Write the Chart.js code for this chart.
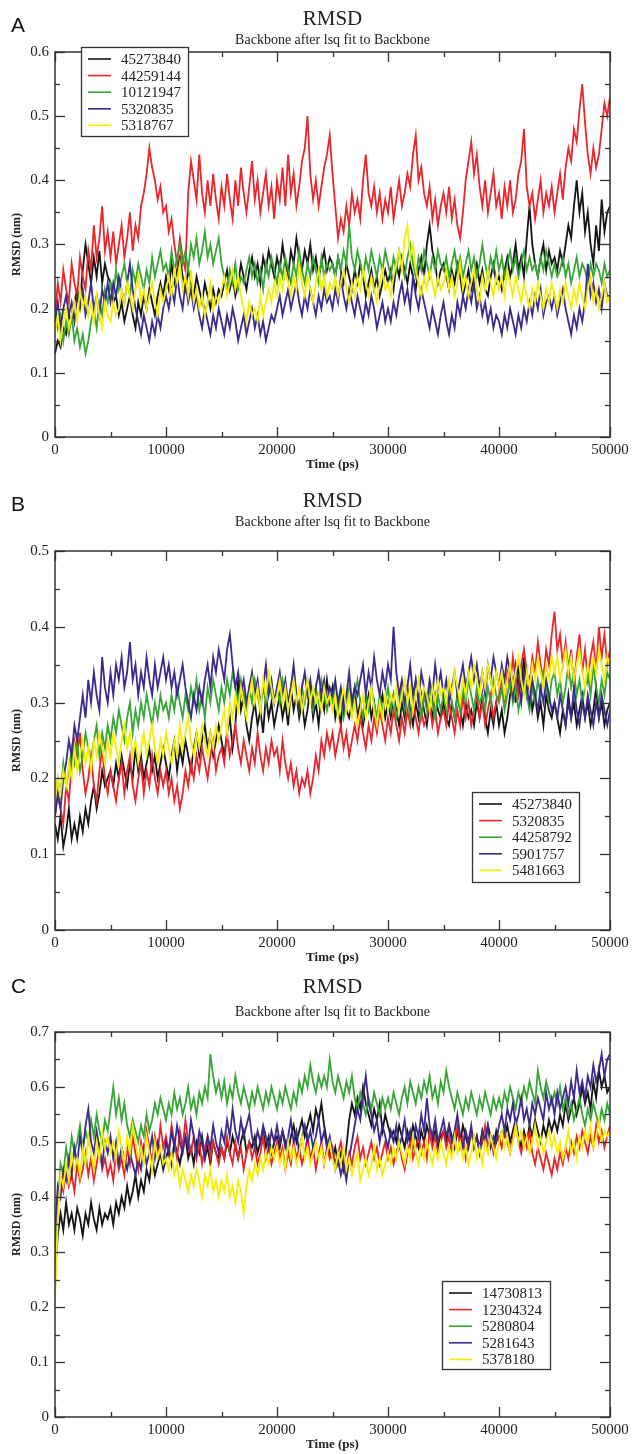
<!DOCTYPE html>
<html>
<head>
<meta charset="utf-8">
<script src="https://cdn.jsdelivr.net/npm/chart.js@4"></script>
<style>
  body { margin: 0; background: #fff; width: 634px; height: 1454px; position: relative; overflow: hidden; }
  canvas { position: absolute; left: 0; }
</style>
</head>
<body>
<canvas id="cA" width="634" height="480" style="top:0px"></canvas>
<canvas id="cB" width="634" height="485" style="top:480px"></canvas>
<canvas id="cC" width="634" height="489" style="top:965px"></canvas>
<script>
// RMSD (nm), one value every 250 ps from 0 to 50000 ps
// (each row = 5000 ps)

// ---- panel A ----
const idsA = ['45273840', '44259144', '10121947', '5320835', '5318767'];
const a45273840 = [
  0.13,0.15,0.14,0.17,0.16,0.19,0.18,0.21,0.23,0.21,0.26,0.30,0.27,0.24,0.28,0.25,0.29,0.24,0.27,0.25,
  0.24,0.21,0.22,0.19,0.21,0.18,0.20,0.22,0.19,0.17,0.21,0.19,0.22,0.20,0.23,0.21,0.19,0.22,0.24,0.22,
  0.25,0.23,0.27,0.24,0.26,0.28,0.25,0.23,0.26,0.24,0.22,0.25,0.23,0.21,0.24,0.22,0.20,0.23,0.21,0.23,
  0.22,0.24,0.26,0.23,0.25,0.22,0.24,0.27,0.25,0.23,0.26,0.28,0.25,0.27,0.24,0.28,0.26,0.29,0.27,0.25,
  0.28,0.26,0.30,0.27,0.25,0.29,0.27,0.31,0.28,0.26,0.29,0.27,0.30,0.26,0.28,0.25,0.27,0.29,0.26,0.28,
  0.27,0.25,0.28,0.26,0.24,0.27,0.25,0.23,0.26,0.24,0.27,0.25,0.22,0.24,0.26,0.23,0.25,0.22,0.24,0.26,
  0.24,0.26,0.23,0.27,0.25,0.28,0.26,0.24,0.27,0.25,0.23,0.26,0.28,0.25,0.30,0.33,0.29,0.27,0.24,0.26,
  0.27,0.25,0.23,0.26,0.24,0.27,0.25,0.22,0.24,0.26,0.23,0.25,0.27,0.24,0.26,0.23,0.22,0.25,0.27,0.24,
  0.25,0.23,0.26,0.28,0.25,0.27,0.30,0.26,0.28,0.25,0.31,0.36,0.30,0.27,0.25,0.28,0.30,0.26,0.29,0.27,
  0.28,0.26,0.29,0.27,0.30,0.33,0.31,0.36,0.40,0.35,0.38,0.32,0.35,0.30,0.27,0.33,0.29,0.37,0.32,0.35,
  0.36];
const a44259144 = [
  0.19,0.24,0.21,0.26,0.23,0.21,0.27,0.24,0.22,0.28,0.25,0.23,0.29,0.26,0.33,0.28,0.31,0.36,0.29,0.32,
  0.28,0.32,0.27,0.30,0.33,0.28,0.31,0.35,0.29,0.33,0.31,0.36,0.38,0.41,0.45,0.42,0.40,0.37,0.39,0.35,
  0.36,0.32,0.34,0.30,0.27,0.31,0.28,0.26,0.38,0.43,0.40,0.37,0.44,0.38,0.35,0.40,0.36,0.41,0.37,0.34,
  0.39,0.36,0.41,0.37,0.34,0.40,0.36,0.42,0.38,0.35,0.39,0.43,0.37,0.40,0.35,0.38,0.41,0.36,0.39,0.34,
  0.40,0.37,0.42,0.36,0.44,0.38,0.41,0.36,0.39,0.43,0.45,0.50,0.41,0.37,0.40,0.36,0.39,0.42,0.44,0.47,
  0.41,0.36,0.31,0.34,0.32,0.36,0.33,0.38,0.35,0.37,0.34,0.40,0.44,0.38,0.36,0.39,0.35,0.38,0.34,0.37,
  0.35,0.39,0.34,0.37,0.40,0.36,0.38,0.41,0.39,0.44,0.47,0.40,0.42,0.38,0.36,0.39,0.34,0.37,0.33,0.36,
  0.38,0.35,0.39,0.34,0.37,0.33,0.31,0.35,0.40,0.43,0.46,0.41,0.44,0.39,0.36,0.40,0.35,0.38,0.41,0.36,
  0.38,0.34,0.39,0.36,0.40,0.35,0.37,0.41,0.43,0.48,0.39,0.36,0.38,0.34,0.37,0.40,0.35,0.38,0.36,0.39,
  0.35,0.38,0.41,0.37,0.42,0.45,0.43,0.48,0.46,0.51,0.55,0.49,0.44,0.41,0.45,0.42,0.44,0.48,0.52,0.50,
  0.53];
const a10121947 = [
  0.20,0.17,0.19,0.15,0.18,0.16,0.19,0.15,0.17,0.14,0.16,0.13,0.15,0.18,0.20,0.17,0.21,0.19,0.23,0.21,
  0.24,0.22,0.26,0.23,0.25,0.27,0.24,0.22,0.26,0.24,0.27,0.25,0.23,0.26,0.24,0.28,0.25,0.27,0.29,0.26,
  0.27,0.25,0.29,0.26,0.28,0.30,0.27,0.29,0.26,0.30,0.28,0.31,0.27,0.29,0.32,0.28,0.30,0.27,0.29,0.31,
  0.27,0.25,0.23,0.26,0.24,0.27,0.23,0.25,0.24,0.26,0.28,0.25,0.27,0.24,0.26,0.23,0.27,0.25,0.28,0.26,
  0.24,0.27,0.25,0.28,0.26,0.24,0.27,0.25,0.29,0.26,0.24,0.27,0.25,0.28,0.26,0.24,0.28,0.25,0.27,0.26,
  0.27,0.25,0.28,0.26,0.29,0.27,0.33,0.28,0.26,0.29,0.27,0.25,0.28,0.26,0.29,0.27,0.25,0.28,0.26,0.29,
  0.27,0.25,0.28,0.26,0.29,0.27,0.25,0.28,0.30,0.27,0.25,0.28,0.26,0.29,0.27,0.25,0.28,0.26,0.29,0.27,
  0.26,0.28,0.25,0.27,0.29,0.26,0.28,0.25,0.27,0.29,0.26,0.28,0.25,0.27,0.30,0.27,0.25,0.28,0.26,0.29,
  0.26,0.28,0.25,0.27,0.29,0.26,0.28,0.25,0.27,0.29,0.26,0.28,0.26,0.27,0.25,0.28,0.26,0.29,0.27,0.25,
  0.27,0.25,0.26,0.28,0.25,0.27,0.24,0.26,0.28,0.25,0.27,0.26,0.24,0.27,0.25,0.27,0.26,0.24,0.27,0.25,
  0.26];
const a5320835 = [
  0.18,0.21,0.17,0.20,0.22,0.19,0.21,0.18,0.22,0.20,0.23,0.19,0.21,0.24,0.20,0.22,0.19,0.23,0.21,0.24,
  0.21,0.24,0.22,0.25,0.23,0.21,0.24,0.27,0.23,0.20,0.18,0.16,0.19,0.17,0.15,0.18,0.16,0.19,0.17,0.20,
  0.22,0.20,0.23,0.21,0.25,0.22,0.20,0.24,0.21,0.23,0.20,0.22,0.19,0.17,0.20,0.18,0.16,0.19,0.17,0.20,
  0.18,0.16,0.19,0.17,0.20,0.18,0.15,0.17,0.19,0.16,0.18,0.20,0.17,0.19,0.16,0.18,0.15,0.17,0.19,0.18,
  0.20,0.22,0.19,0.21,0.23,0.20,0.22,0.24,0.21,0.19,0.22,0.20,0.23,0.21,0.19,0.22,0.20,0.23,0.21,0.22,
  0.20,0.23,0.21,0.25,0.22,0.20,0.23,0.21,0.19,0.22,0.20,0.18,0.21,0.19,0.22,0.20,0.17,0.19,0.21,0.18,
  0.20,0.18,0.21,0.19,0.22,0.24,0.21,0.23,0.20,0.25,0.22,0.20,0.23,0.21,0.19,0.17,0.20,0.18,0.16,0.19,
  0.21,0.18,0.16,0.19,0.17,0.21,0.19,0.22,0.20,0.23,0.21,0.24,0.20,0.22,0.19,0.21,0.18,0.20,0.17,0.19,
  0.18,0.16,0.19,0.17,0.20,0.18,0.16,0.19,0.17,0.20,0.18,0.21,0.19,0.22,0.20,0.23,0.19,0.21,0.22,0.20,
  0.22,0.19,0.21,0.23,0.20,0.18,0.16,0.19,0.17,0.20,0.18,0.21,0.27,0.22,0.24,0.21,0.23,0.20,0.24,0.22,
  0.22];
const a5318767 = [
  0.16,0.19,0.15,0.18,0.20,0.17,0.19,0.21,0.18,0.23,0.20,0.22,0.19,0.21,0.18,0.22,0.19,0.17,0.21,0.19,
  0.18,0.21,0.19,0.20,0.23,0.21,0.24,0.22,0.20,0.23,0.25,0.21,0.23,0.20,0.22,0.24,0.21,0.19,0.23,0.21,
  0.23,0.25,0.22,0.26,0.24,0.27,0.23,0.25,0.22,0.26,0.21,0.23,0.20,0.22,0.19,0.21,0.24,0.20,0.22,0.21,
  0.23,0.25,0.22,0.24,0.26,0.23,0.25,0.22,0.20,0.18,0.21,0.19,0.20,0.18,0.22,0.19,0.21,0.23,0.21,0.24,
  0.22,0.25,0.23,0.26,0.24,0.22,0.25,0.23,0.27,0.24,0.22,0.25,0.23,0.21,0.24,0.26,0.23,0.25,0.22,0.24,
  0.23,0.25,0.22,0.24,0.26,0.23,0.21,0.24,0.22,0.25,0.23,0.26,0.24,0.22,0.25,0.23,0.21,0.24,0.26,0.23,
  0.24,0.22,0.25,0.27,0.29,0.26,0.31,0.33,0.28,0.30,0.26,0.24,0.22,0.25,0.23,0.26,0.24,0.22,0.25,0.23,
  0.24,0.26,0.23,0.25,0.22,0.24,0.27,0.23,0.25,0.22,0.24,0.26,0.23,0.21,0.25,0.23,0.26,0.24,0.22,0.25,
  0.23,0.25,0.22,0.26,0.24,0.22,0.25,0.23,0.21,0.24,0.22,0.20,0.23,0.21,0.24,0.22,0.20,0.23,0.21,0.24,
  0.22,0.20,0.23,0.21,0.24,0.22,0.20,0.23,0.21,0.24,0.22,0.20,0.23,0.25,0.21,0.23,0.20,0.22,0.24,0.21,
  0.22];

// ---- panel B ----
const idsB = ['45273840', '5320835', '44258792', '5901757', '5481663'];
const b45273840 = [
  0.14,0.12,0.15,0.11,0.13,0.16,0.12,0.14,0.12,0.15,0.13,0.16,0.14,0.17,0.19,0.16,0.18,0.21,0.19,0.20,
  0.21,0.19,0.22,0.20,0.23,0.21,0.19,0.22,0.20,0.24,0.21,0.23,0.20,0.22,0.24,0.21,0.23,0.20,0.22,0.24,
  0.22,0.20,0.23,0.25,0.21,0.24,0.22,0.25,0.23,0.21,0.24,0.26,0.23,0.25,0.27,0.24,0.26,0.23,0.25,0.27,
  0.25,0.23,0.26,0.28,0.24,0.27,0.33,0.29,0.31,0.27,0.25,0.28,0.30,0.27,0.29,0.26,0.31,0.28,0.30,0.27,
  0.29,0.31,0.28,0.30,0.27,0.32,0.29,0.31,0.28,0.30,0.27,0.29,0.32,0.28,0.30,0.27,0.31,0.29,0.33,0.30,
  0.32,0.28,0.30,0.27,0.31,0.29,0.28,0.30,0.32,0.28,0.30,0.27,0.29,0.31,0.28,0.30,0.27,0.29,0.31,0.28,
  0.30,0.28,0.31,0.29,0.27,0.30,0.28,0.32,0.29,0.27,0.30,0.28,0.31,0.29,0.27,0.30,0.28,0.31,0.29,0.28,
  0.30,0.28,0.27,0.30,0.28,0.31,0.29,0.27,0.30,0.28,0.29,0.27,0.30,0.28,0.31,0.28,0.26,0.29,0.27,0.30,
  0.27,0.29,0.26,0.28,0.31,0.33,0.30,0.35,0.32,0.36,0.31,0.33,0.29,0.31,0.28,0.30,0.27,0.31,0.29,0.28,
  0.30,0.28,0.26,0.29,0.27,0.31,0.28,0.30,0.27,0.29,0.31,0.28,0.30,0.27,0.29,0.32,0.28,0.30,0.27,0.29,
  0.30];
const b5320835 = [
  0.15,0.18,0.16,0.14,0.19,0.17,0.22,0.25,0.23,0.26,0.21,0.18,0.20,0.23,0.19,0.17,0.21,0.24,0.20,0.18,
  0.21,0.19,0.17,0.20,0.22,0.18,0.21,0.23,0.19,0.17,0.20,0.22,0.18,0.21,0.19,0.23,0.20,0.18,0.21,0.19,
  0.21,0.18,0.20,0.17,0.19,0.16,0.18,0.21,0.19,0.22,0.20,0.23,0.21,0.24,0.22,0.20,0.23,0.25,0.21,0.23,
  0.24,0.22,0.26,0.23,0.25,0.27,0.24,0.22,0.25,0.23,0.21,0.24,0.22,0.26,0.23,0.21,0.24,0.22,0.25,0.23,
  0.24,0.21,0.25,0.22,0.20,0.22,0.19,0.21,0.18,0.20,0.19,0.21,0.18,0.20,0.23,0.21,0.25,0.23,0.26,0.24,
  0.26,0.23,0.25,0.27,0.24,0.26,0.23,0.25,0.27,0.25,0.28,0.26,0.24,0.27,0.25,0.28,0.26,0.29,0.27,0.25,
  0.28,0.26,0.29,0.27,0.25,0.28,0.26,0.29,0.27,0.30,0.28,0.26,0.29,0.27,0.28,0.30,0.27,0.29,0.26,0.28,
  0.29,0.27,0.30,0.28,0.26,0.29,0.27,0.31,0.28,0.30,0.27,0.29,0.31,0.28,0.30,0.27,0.29,0.31,0.28,0.30,
  0.31,0.33,0.30,0.34,0.32,0.36,0.33,0.31,0.35,0.37,0.34,0.32,0.36,0.34,0.38,0.35,0.33,0.37,0.35,0.39,
  0.42,0.37,0.39,0.35,0.38,0.34,0.37,0.32,0.36,0.39,0.34,0.37,0.33,0.36,0.38,0.34,0.40,0.36,0.39,0.35,
  0.37];
const b44258792 = [
  0.17,0.20,0.18,0.22,0.19,0.21,0.24,0.22,0.25,0.21,0.23,0.26,0.24,0.22,0.25,0.27,0.23,0.26,0.24,0.27,
  0.25,0.28,0.26,0.29,0.27,0.25,0.28,0.30,0.26,0.29,0.27,0.30,0.28,0.31,0.29,0.27,0.30,0.28,0.31,0.29,
  0.30,0.28,0.31,0.29,0.32,0.30,0.28,0.31,0.29,0.32,0.30,0.33,0.29,0.31,0.28,0.32,0.30,0.33,0.31,0.29,
  0.32,0.30,0.33,0.31,0.34,0.32,0.30,0.33,0.31,0.29,0.32,0.30,0.33,0.31,0.29,0.32,0.30,0.33,0.31,0.30,
  0.32,0.30,0.33,0.31,0.29,0.32,0.34,0.31,0.29,0.32,0.30,0.33,0.31,0.29,0.32,0.30,0.33,0.31,0.29,0.31,
  0.30,0.32,0.29,0.31,0.28,0.30,0.32,0.29,0.31,0.33,0.30,0.28,0.31,0.29,0.32,0.30,0.28,0.31,0.29,0.30,
  0.32,0.29,0.31,0.28,0.30,0.32,0.29,0.31,0.28,0.30,0.33,0.30,0.28,0.31,0.29,0.32,0.30,0.28,0.31,0.29,
  0.31,0.29,0.32,0.30,0.28,0.31,0.29,0.32,0.30,0.33,0.31,0.29,0.32,0.30,0.31,0.29,0.32,0.30,0.33,0.31,
  0.30,0.32,0.29,0.31,0.33,0.30,0.32,0.29,0.31,0.33,0.31,0.29,0.32,0.30,0.33,0.31,0.34,0.32,0.30,0.33,
  0.34,0.31,0.33,0.30,0.32,0.35,0.32,0.34,0.31,0.33,0.30,0.32,0.34,0.31,0.35,0.32,0.30,0.33,0.31,0.34,
  0.33];
const b5901757 = [
  0.15,0.18,0.16,0.20,0.22,0.25,0.23,0.27,0.25,0.28,0.31,0.28,0.33,0.30,0.34,0.31,0.29,0.36,0.32,0.30,
  0.34,0.31,0.35,0.33,0.36,0.32,0.34,0.38,0.33,0.35,0.31,0.34,0.32,0.36,0.33,0.31,0.35,0.32,0.34,0.36,
  0.33,0.35,0.32,0.34,0.31,0.33,0.35,0.32,0.30,0.28,0.31,0.29,0.32,0.30,0.33,0.35,0.32,0.36,0.34,0.37,
  0.35,0.33,0.37,0.39,0.35,0.32,0.34,0.31,0.33,0.30,0.32,0.34,0.31,0.33,0.30,0.32,0.35,0.31,0.33,0.30,
  0.32,0.34,0.31,0.33,0.30,0.32,0.35,0.31,0.29,0.32,0.34,0.31,0.33,0.30,0.32,0.34,0.31,0.33,0.30,0.32,
  0.31,0.33,0.30,0.32,0.29,0.31,0.34,0.30,0.32,0.31,0.33,0.35,0.31,0.34,0.32,0.36,0.33,0.31,0.34,0.32,
  0.35,0.33,0.40,0.34,0.31,0.33,0.30,0.32,0.35,0.31,0.33,0.30,0.34,0.32,0.30,0.33,0.31,0.35,0.32,0.34,
  0.31,0.33,0.30,0.32,0.34,0.31,0.33,0.35,0.32,0.34,0.36,0.33,0.35,0.32,0.34,0.31,0.35,0.33,0.36,0.34,
  0.32,0.35,0.33,0.36,0.34,0.31,0.35,0.33,0.30,0.34,0.32,0.30,0.33,0.31,0.29,0.32,0.30,0.33,0.31,0.29,
  0.30,0.28,0.31,0.29,0.27,0.30,0.28,0.32,0.29,0.27,0.30,0.28,0.31,0.29,0.27,0.30,0.28,0.31,0.29,0.27,
  0.29];
const b5481663 = [
  0.17,0.20,0.18,0.21,0.19,0.22,0.20,0.24,0.21,0.23,0.25,0.22,0.24,0.21,0.25,0.23,0.26,0.24,0.22,0.25,
  0.23,0.26,0.24,0.22,0.25,0.27,0.24,0.26,0.23,0.25,0.22,0.24,0.26,0.23,0.25,0.27,0.24,0.22,0.25,0.23,
  0.26,0.24,0.22,0.25,0.23,0.27,0.24,0.26,0.28,0.25,0.23,0.26,0.24,0.27,0.25,0.23,0.26,0.24,0.27,0.25,
  0.27,0.29,0.26,0.30,0.28,0.31,0.29,0.32,0.30,0.28,0.31,0.33,0.30,0.32,0.29,0.33,0.31,0.34,0.32,0.30,
  0.31,0.33,0.30,0.32,0.29,0.31,0.33,0.30,0.32,0.29,0.31,0.33,0.30,0.32,0.30,0.31,0.29,0.32,0.30,0.31,
  0.29,0.31,0.28,0.30,0.32,0.29,0.31,0.28,0.30,0.27,0.29,0.31,0.28,0.30,0.32,0.29,0.27,0.30,0.28,0.31,
  0.29,0.31,0.30,0.32,0.29,0.31,0.33,0.30,0.32,0.29,0.31,0.33,0.30,0.32,0.31,0.29,0.32,0.30,0.33,0.31,
  0.32,0.30,0.33,0.31,0.34,0.32,0.30,0.33,0.31,0.34,0.32,0.35,0.33,0.31,0.34,0.32,0.35,0.33,0.31,0.34,
  0.32,0.34,0.31,0.33,0.35,0.32,0.34,0.36,0.33,0.31,0.34,0.32,0.35,0.33,0.36,0.34,0.32,0.35,0.33,0.36,
  0.34,0.36,0.33,0.35,0.37,0.34,0.36,0.33,0.35,0.37,0.34,0.32,0.35,0.33,0.36,0.34,0.37,0.35,0.33,0.36,
  0.35];

// ---- panel C ----
const idsC = ['14730813', '12304324', '5280804', '5281643', '5378180'];
const c14730813 = [
  0.26,0.33,0.37,0.34,0.39,0.35,0.37,0.34,0.38,0.36,0.33,0.37,0.35,0.39,0.36,0.34,0.38,0.35,0.37,0.36,
  0.38,0.35,0.39,0.37,0.40,0.38,0.42,0.39,0.41,0.44,0.40,0.43,0.41,0.45,0.43,0.47,0.44,0.46,0.48,0.45,
  0.47,0.49,0.46,0.50,0.48,0.46,0.49,0.51,0.47,0.49,0.46,0.50,0.48,0.51,0.47,0.49,0.46,0.50,0.48,0.47,
  0.49,0.47,0.50,0.48,0.51,0.49,0.47,0.50,0.52,0.48,0.50,0.49,0.51,0.48,0.50,0.52,0.49,0.51,0.48,0.50,
  0.51,0.49,0.52,0.50,0.48,0.51,0.53,0.50,0.52,0.54,0.51,0.53,0.55,0.52,0.56,0.54,0.57,0.53,0.50,0.48,
  0.47,0.49,0.46,0.48,0.45,0.49,0.54,0.57,0.55,0.58,0.56,0.60,0.57,0.55,0.53,0.56,0.54,0.57,0.52,0.55,
  0.53,0.51,0.52,0.50,0.53,0.51,0.49,0.52,0.50,0.53,0.51,0.49,0.52,0.50,0.53,0.51,0.50,0.52,0.49,0.51,
  0.52,0.50,0.53,0.51,0.49,0.52,0.50,0.53,0.51,0.49,0.52,0.50,0.51,0.49,0.52,0.50,0.53,0.51,0.49,0.52,
  0.50,0.52,0.51,0.53,0.50,0.52,0.54,0.51,0.49,0.52,0.50,0.53,0.51,0.54,0.52,0.50,0.53,0.51,0.54,0.52,
  0.54,0.52,0.55,0.53,0.57,0.54,0.56,0.58,0.55,0.57,0.60,0.57,0.59,0.56,0.61,0.58,0.63,0.60,0.62,0.59,
  0.60];
const c12304324 = [
  0.31,0.40,0.43,0.41,0.45,0.42,0.44,0.41,0.46,0.43,0.45,0.48,0.44,0.47,0.43,0.46,0.49,0.45,0.47,0.44,
  0.46,0.43,0.48,0.45,0.47,0.44,0.49,0.46,0.51,0.48,0.45,0.50,0.47,0.52,0.49,0.46,0.51,0.48,0.53,0.49,
  0.51,0.48,0.53,0.50,0.47,0.52,0.49,0.54,0.50,0.48,0.51,0.47,0.50,0.46,0.49,0.51,0.47,0.50,0.48,0.46,
  0.49,0.47,0.51,0.48,0.46,0.50,0.47,0.49,0.45,0.48,0.50,0.47,0.49,0.46,0.48,0.51,0.47,0.49,0.46,0.48,
  0.50,0.47,0.49,0.45,0.48,0.46,0.50,0.47,0.49,0.46,0.48,0.51,0.47,0.49,0.45,0.48,0.50,0.46,0.49,0.47,
  0.49,0.46,0.48,0.50,0.47,0.45,0.48,0.46,0.49,0.51,0.47,0.49,0.46,0.48,0.50,0.47,0.49,0.46,0.48,0.50,
  0.47,0.49,0.46,0.48,0.50,0.47,0.45,0.48,0.50,0.47,0.49,0.51,0.48,0.50,0.47,0.52,0.49,0.51,0.48,0.50,
  0.52,0.49,0.51,0.48,0.50,0.53,0.49,0.51,0.47,0.50,0.52,0.49,0.51,0.48,0.50,0.53,0.49,0.51,0.48,0.50,
  0.51,0.49,0.52,0.50,0.48,0.51,0.53,0.50,0.48,0.51,0.49,0.52,0.48,0.46,0.49,0.47,0.45,0.48,0.46,0.44,
  0.47,0.45,0.48,0.46,0.49,0.47,0.50,0.48,0.51,0.49,0.52,0.50,0.48,0.51,0.49,0.53,0.50,0.52,0.49,0.51,
  0.53];
const c5280804 = [
  0.25,0.38,0.46,0.44,0.49,0.46,0.51,0.48,0.50,0.53,0.49,0.52,0.50,0.54,0.51,0.55,0.52,0.50,0.54,0.52,
  0.56,0.60,0.55,0.58,0.54,0.57,0.53,0.51,0.54,0.52,0.50,0.53,0.51,0.55,0.52,0.54,0.57,0.55,0.58,0.56,
  0.54,0.57,0.55,0.59,0.56,0.58,0.55,0.57,0.60,0.56,0.58,0.55,0.59,0.57,0.60,0.58,0.66,0.62,0.59,0.61,
  0.58,0.61,0.57,0.60,0.58,0.62,0.59,0.57,0.60,0.58,0.56,0.59,0.57,0.60,0.58,0.56,0.59,0.57,0.60,0.58,
  0.56,0.59,0.57,0.60,0.58,0.56,0.59,0.57,0.61,0.59,0.62,0.60,0.64,0.61,0.59,0.62,0.60,0.62,0.60,0.65,
  0.61,0.59,0.62,0.60,0.58,0.61,0.59,0.62,0.58,0.56,0.59,0.57,0.55,0.58,0.56,0.59,0.57,0.55,0.58,0.56,
  0.58,0.56,0.59,0.57,0.55,0.58,0.60,0.57,0.61,0.59,0.57,0.60,0.58,0.61,0.59,0.62,0.58,0.60,0.57,0.61,
  0.59,0.63,0.60,0.58,0.56,0.59,0.57,0.55,0.58,0.56,0.59,0.57,0.55,0.58,0.56,0.59,0.57,0.55,0.58,0.56,
  0.58,0.56,0.59,0.57,0.60,0.58,0.56,0.59,0.57,0.60,0.58,0.61,0.59,0.57,0.63,0.60,0.58,0.61,0.59,0.57,
  0.59,0.57,0.60,0.56,0.58,0.55,0.57,0.54,0.56,0.58,0.55,0.53,0.56,0.54,0.57,0.55,0.53,0.56,0.54,0.57,
  0.55];
const c5281643 = [
  0.34,0.42,0.40,0.45,0.43,0.47,0.44,0.49,0.46,0.51,0.48,0.53,0.56,0.50,0.48,0.52,0.49,0.46,0.50,0.48,
  0.51,0.47,0.50,0.46,0.49,0.47,0.45,0.48,0.46,0.44,0.47,0.45,0.49,0.46,0.48,0.51,0.47,0.50,0.48,0.46,
  0.50,0.48,0.52,0.49,0.53,0.50,0.48,0.51,0.49,0.54,0.51,0.48,0.52,0.50,0.47,0.51,0.49,0.53,0.50,0.48,
  0.52,0.50,0.54,0.51,0.56,0.52,0.50,0.54,0.51,0.53,0.55,0.51,0.49,0.52,0.50,0.53,0.51,0.49,0.52,0.50,
  0.53,0.50,0.52,0.49,0.51,0.54,0.50,0.52,0.48,0.51,0.53,0.50,0.52,0.49,0.51,0.54,0.50,0.52,0.49,0.51,
  0.48,0.45,0.47,0.44,0.46,0.43,0.47,0.50,0.53,0.56,0.54,0.58,0.62,0.57,0.55,0.52,0.54,0.50,0.53,0.51,
  0.49,0.52,0.50,0.53,0.49,0.51,0.54,0.50,0.52,0.49,0.53,0.51,0.55,0.52,0.58,0.53,0.51,0.54,0.50,0.52,
  0.54,0.51,0.53,0.50,0.52,0.55,0.51,0.49,0.52,0.50,0.53,0.49,0.51,0.48,0.52,0.50,0.53,0.49,0.51,0.50,
  0.53,0.55,0.52,0.56,0.54,0.57,0.53,0.55,0.58,0.54,0.56,0.53,0.57,0.55,0.58,0.56,0.54,0.59,0.56,0.58,
  0.55,0.59,0.56,0.58,0.60,0.57,0.61,0.58,0.63,0.59,0.61,0.58,0.62,0.60,0.64,0.61,0.63,0.66,0.62,0.65,
  0.66];
const c5378180 = [
  0.21,0.36,0.44,0.42,0.46,0.43,0.48,0.45,0.47,0.44,0.49,0.46,0.51,0.48,0.45,0.50,0.47,0.52,0.49,0.51,
  0.48,0.50,0.47,0.52,0.49,0.46,0.51,0.48,0.53,0.50,0.47,0.49,0.46,0.51,0.48,0.45,0.50,0.47,0.49,0.46,
  0.47,0.45,0.48,0.44,0.46,0.42,0.45,0.43,0.41,0.44,0.42,0.45,0.43,0.40,0.44,0.42,0.45,0.41,0.43,0.40,
  0.43,0.41,0.44,0.40,0.42,0.39,0.43,0.41,0.37,0.42,0.45,0.43,0.46,0.44,0.47,0.45,0.48,0.46,0.49,0.47,
  0.49,0.46,0.48,0.45,0.50,0.47,0.49,0.46,0.48,0.51,0.47,0.49,0.46,0.48,0.50,0.47,0.49,0.46,0.48,0.50,
  0.47,0.45,0.48,0.46,0.49,0.45,0.47,0.44,0.46,0.48,0.43,0.45,0.47,0.44,0.46,0.49,0.45,0.47,0.44,0.46,
  0.48,0.46,0.49,0.47,0.50,0.48,0.46,0.49,0.47,0.51,0.48,0.46,0.49,0.47,0.50,0.48,0.46,0.49,0.47,0.50,
  0.48,0.46,0.49,0.47,0.51,0.48,0.50,0.47,0.49,0.46,0.48,0.51,0.47,0.49,0.46,0.50,0.48,0.51,0.49,0.47,
  0.50,0.52,0.49,0.51,0.48,0.50,0.53,0.50,0.52,0.49,0.51,0.48,0.50,0.53,0.49,0.51,0.48,0.50,0.52,0.49,
  0.51,0.48,0.50,0.47,0.49,0.52,0.48,0.50,0.47,0.51,0.49,0.52,0.50,0.53,0.49,0.51,0.54,0.50,0.52,0.51,
  0.52];

const STEP = 250; // ps between samples
const seriesColors = ['#141414', '#e8262c', '#38a636', '#3a2a8e', '#f4ee00'];

const SERIF = '"Liberation Serif", "Times New Roman", serif';
const INK = '#222';

// xmgrace-like frame: box, inward ticks, titles, legend box
const frame = {
  id: 'frame',
  afterDatasetsDraw(chart, args, o) {
    const { ctx, chartArea: a, scales: { x, y } } = chart;
    ctx.save();
    ctx.strokeStyle = '#333';
    ctx.lineWidth = 1.3;

    const seg = (x1, y1, x2, y2) => { ctx.beginPath(); ctx.moveTo(x1, y1); ctx.lineTo(x2, y2); ctx.stroke(); };

    // ticks (major every label step, minor halfway)
    const xs = 5000;
    for (let k = 0; k * xs <= x.max; k++) {
      const px = Math.round(x.getPixelForValue(k * xs)) + 0.5;
      const len = k % 2 === 0 ? 10 : 5;
      seg(px, a.bottom, px, a.bottom - len);
      seg(px, a.top, px, a.top + len);
    }
    const ys = 0.05;
    for (let k = 0; k * ys <= y.max + 1e-9; k++) {
      const py = Math.round(y.getPixelForValue(k * ys)) + 0.5;
      const len = k % 2 === 0 ? 10 : 5;
      seg(a.left, py, a.left + len, py);
      seg(a.right, py, a.right - len, py);
    }
    ctx.lineWidth = 1.5;
    ctx.strokeRect(a.left, a.top, a.right - a.left, a.bottom - a.top);

    // legend
    const L = o.legend;
    ctx.fillStyle = '#fff';
    ctx.fillRect(L.x, L.y, L.w, L.h);
    ctx.lineWidth = 1.3;
    ctx.strokeRect(L.x + 0.5, L.y + 0.5, L.w, L.h);
    ctx.font = '15px ' + SERIF;
    ctx.textAlign = 'left';
    ctx.textBaseline = 'middle';
    chart.data.datasets.forEach((ds, i) => {
      const ry = L.y + 12 + i * 16.6;
      ctx.strokeStyle = ds.borderColor;
      ctx.lineWidth = 1.6;
      seg(L.x + 7, ry, L.x + 30, ry);
      ctx.fillStyle = INK;
      ctx.fillText(ds.label, L.x + 40, ry + 1);
    });

    // titles
    const cx = (a.left + a.right) / 2;
    ctx.fillStyle = INK;
    ctx.textAlign = 'center';
    ctx.font = '21px ' + SERIF;
    ctx.fillText('RMSD', cx, o.titleY);
    ctx.font = '14px ' + SERIF;
    ctx.fillText('Backbone after lsq fit to Backbone', cx, o.subY);
    ctx.font = 'bold 13px ' + SERIF;
    ctx.fillText('Time (ps)', cx, a.bottom + 28);
    ctx.save();
    ctx.translate(17, (a.top + a.bottom) / 2);
    ctx.rotate(-Math.PI / 2);
    ctx.font = 'bold 12px ' + SERIF;
    ctx.fillText('RMSD (nm)', 0, 0);
    ctx.restore();

    ctx.fillStyle = '#111';
    ctx.textAlign = 'left';
    ctx.font = '21px "Liberation Sans", Arial, sans-serif';
    ctx.fillText(o.letter, 11, o.letterY);
    ctx.restore();
  }
};

function drawPanel(p) {
  const canvas = document.getElementById(p.canvas);
  const H = canvas.height;
  const datasets = p.series.map((s, i) => ({
    label: p.ids[i],
    data: s.map((v, j) => ({ x: j * STEP, y: v })),
    borderColor: seriesColors[i],
    order: p.series.length - i  // later series drawn on top, as in the original
  }));
  new Chart(canvas, {
    type: 'line',
    data: { datasets },
    plugins: [frame],
    options: {
      responsive: false,
      animation: false,
      devicePixelRatio: 1,
      layout: { padding: { left: 0, right: 24, top: p.top, bottom: 0 } },
      elements: { point: { radius: 0 }, line: { borderWidth: 1.8, tension: 0 } },
      plugins: {
        legend: { display: false },
        tooltip: { enabled: false },
        frame: { legend: p.legend, titleY: p.titleY, subY: p.subY, letter: p.letter, letterY: p.letterY }
      },
      scales: {
        x: {
          type: 'linear', min: 0, max: 50000,
          border: { display: false },
          grid: { display: false, drawTicks: false },
          ticks: {
            stepSize: 10000, autoSkip: false, maxRotation: 0, padding: 4, color: INK,
            font: { family: SERIF, size: 15 },
            callback: v => String(v)
          },
          afterFit: s => { s.height = H - p.bottom; }
        },
        y: {
          min: 0, max: p.yMax,
          border: { display: false },
          grid: { display: false, drawTicks: false },
          ticks: {
            stepSize: 0.1, autoSkip: false, padding: 6, color: INK,
            font: { family: SERIF, size: 15 },
            callback: v => String(Math.round(v * 10) / 10)
          },
          afterFit: s => { s.width = 55; }
        }
      }
    }
  });
}

drawPanel({
  canvas: 'cA', letter: 'A', letterY: 26, titleY: 19, subY: 40,
  ids: idsA, series: [a45273840, a44259144, a10121947, a5320835, a5318767],
  yMax: 0.6, top: 52, bottom: 437,
  legend: { x: 81, y: 47, w: 107, h: 89 }
});
drawPanel({
  canvas: 'cB', letter: 'B', letterY: 25, titleY: 21, subY: 42,
  ids: idsB, series: [b45273840, b5320835, b44258792, b5901757, b5481663],
  yMax: 0.5, top: 71, bottom: 450,
  legend: { x: 472, y: 312, w: 107, h: 90 }
});
drawPanel({
  canvas: 'cC', letter: 'C', letterY: 22, titleY: 22, subY: 47,
  ids: idsC, series: [c14730813, c12304324, c5280804, c5281643, c5378180],
  yMax: 0.7, top: 67, bottom: 452,
  legend: { x: 442, y: 316, w: 108, h: 88 }
});
</script>
</body>
</html>
